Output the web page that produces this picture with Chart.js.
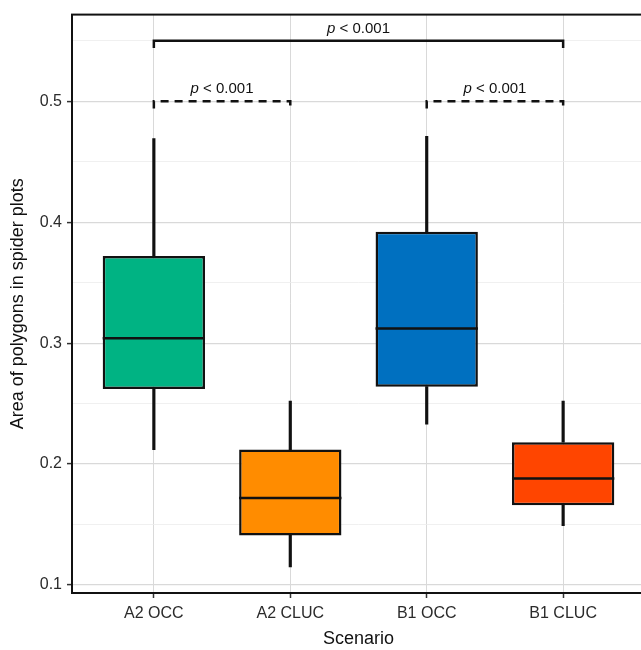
<!DOCTYPE html>
<html>
<head>
<meta charset="utf-8">
<script src="https://cdn.jsdelivr.net/npm/chart.js@4.4.1/dist/chart.umd.min.js"></script>
<style>
html, body { margin: 0; padding: 0; background: #fff; overflow: hidden; }
#wrap { width: 660px; height: 650px; position: relative; }
</style>
</head>
<body>
<div id="wrap"><canvas id="chart"></canvas></div>
<script>
// box statistics
const scenarios = ['A2 OCC', 'A2 CLUC', 'B1 OCC', 'B1 CLUC'];
const whiskerLow = [0.212, 0.115, 0.233, 0.149];
const q1 = [0.262, 0.141, 0.264, 0.166];
const median = [0.304, 0.172, 0.312, 0.188];
const q3 = [0.372, 0.212, 0.392, 0.218];
const whiskerHigh = [0.469, 0.252, 0.471, 0.252];
const boxColors = ['#00b383', '#ff8c00', '#0070c0', '#ff4500'];

// y ticks (major every 0.1, minor in between)
const yTicks = [0.1, 0.15, 0.2, 0.25, 0.3, 0.35, 0.4, 0.45, 0.5, 0.55];

// significance brackets
const bracketFrom = [0, 0, 2];
const bracketTo = [3, 1, 3];
const bracketY = [0.55, 0.5, 0.5];
const bracketDashed = [false, true, true];
const bracketLabel = ['< 0.001', '< 0.001', '< 0.001'];

const isMajor = v => Math.abs(v * 10 - Math.round(v * 10)) < 1e-6;
const FONT = '"Liberation Sans", Arial, sans-serif';

const extras = {
    id: 'extras',
    afterDatasetsDraw(chart) {
        const { ctx, chartArea, scales: { x, y } } = chart;
        const boxes = chart.getDatasetMeta(2).data;
        ctx.save();
        // medians
        ctx.strokeStyle = '#111';
        ctx.lineWidth = 2.5;
        median.forEach((m, i) => {
            const half = boxes[i].width / 2;
            const px = x.getPixelForValue(i);
            const py = y.getPixelForValue(m);
            ctx.beginPath();
            ctx.moveTo(px - half, py);
            ctx.lineTo(px + half, py);
            ctx.stroke();
        });
        // brackets
        bracketFrom.forEach((f, i) => {
            const x1 = x.getPixelForValue(f);
            const x2 = x.getPixelForValue(bracketTo[i]);
            const yy = y.getPixelForValue(bracketY[i]);
            const yd = y.getPixelForValue(bracketY[i] - 0.006);
            ctx.setLineDash(bracketDashed[i] ? [8, 6] : []);
            ctx.lineWidth = 2.5;
            ctx.beginPath();
            ctx.moveTo(x1, yd);
            ctx.lineTo(x1, yy);
            ctx.lineTo(x2, yy);
            ctx.lineTo(x2, yd);
            ctx.stroke();
            ctx.setLineDash([]);
            // label: italic p + rest
            ctx.fillStyle = '#111';
            ctx.textBaseline = 'middle';
            ctx.font = 'italic 15px ' + FONT;
            const wp = ctx.measureText('p ').width;
            ctx.font = '15px ' + FONT;
            const wr = ctx.measureText(bracketLabel[i]).width;
            const start = (x1 + x2) / 2 - (wp + wr) / 2;
            ctx.textAlign = 'left';
            ctx.font = 'italic 15px ' + FONT;
            ctx.fillText('p ', start, yy - 12);
            ctx.font = '15px ' + FONT;
            ctx.fillText(bracketLabel[i], start + wp, yy - 12);
        });
        // panel border
        ctx.strokeStyle = '#111';
        ctx.lineWidth = 2;
        ctx.strokeRect(chartArea.left, chartArea.top, chartArea.right - chartArea.left, chartArea.bottom - chartArea.top);
        ctx.restore();
    }
};

new Chart(document.getElementById('chart'), {
    type: 'bar',
    data: {
        datasets: [
            {
                data: scenarios.map((s, i) => ({ x: i, y: [whiskerLow[i], q1[i]] })),
                backgroundColor: '#111',
                barThickness: 2.5,
                grouped: false
            },
            {
                data: scenarios.map((s, i) => ({ x: i, y: [q3[i], whiskerHigh[i]] })),
                backgroundColor: '#111',
                barThickness: 2.5,
                grouped: false
            },
            {
                data: scenarios.map((s, i) => ({ x: i, y: [q1[i], q3[i]] })),
                backgroundColor: boxColors,
                borderColor: '#111',
                borderWidth: 2.5,
                borderSkipped: false,
                categoryPercentage: 0.75,
                barPercentage: 1,
                grouped: false
            }
        ]
    },
    options: {
        responsive: true,
        maintainAspectRatio: false,
        animation: false,
        layout: { padding: { top: 8, right: 15, left: 0, bottom: 0 } },
        plugins: { legend: { display: false }, tooltip: { enabled: false } },
        scales: {
            x: {
                type: 'linear',
                min: -0.6,
                max: 3.6,
                offset: false,
                afterBuildTicks: s => { s.ticks = scenarios.map((c, i) => ({ value: i })); },
                afterFit: s => { s.height = 57; },
                ticks: {
                    callback: v => scenarios[v],
                    color: '#2b2b2b',
                    font: { family: FONT, size: 16 },
                    padding: 6,
                    maxRotation: 0
                },
                grid: { offset: false, color: '#d9d9d9', lineWidth: 1, tickLength: 5, tickColor: '#333', tickWidth: 1.5 },
                border: { display: false },
                title: {
                    display: true,
                    text: 'Scenario',
                    color: '#111',
                    font: { family: FONT, size: 18 },
                    padding: { top: 0, bottom: 0 }
                }
            },
            y: {
                min: 0.0934,
                max: 0.5716,
                afterBuildTicks: s => { s.ticks = yTicks.map(v => ({ value: v })); },
                afterFit: s => { s.width = 72; },
                ticks: {
                    callback: v => isMajor(v) ? v.toFixed(1) : '',
                    color: '#2b2b2b',
                    font: { family: FONT, size: 16 },
                    padding: 5
                },
                grid: {
                    color: c => isMajor(c.tick.value) ? '#d9d9d9' : '#ececec',
                    lineWidth: c => isMajor(c.tick.value) ? 1.2 : 0.8,
                    tickLength: 5,
                    tickColor: c => isMajor(c.tick.value) ? '#333' : 'transparent',
                    tickWidth: 1.5
                },
                border: { display: false },
                title: {
                    display: true,
                    text: 'Area of polygons in spider plots',
                    color: '#111',
                    font: { family: FONT, size: 18 },
                    padding: { top: 7, bottom: 0 }
                }
            }
        }
    },
    plugins: [extras]
});
</script>
</body>
</html>
